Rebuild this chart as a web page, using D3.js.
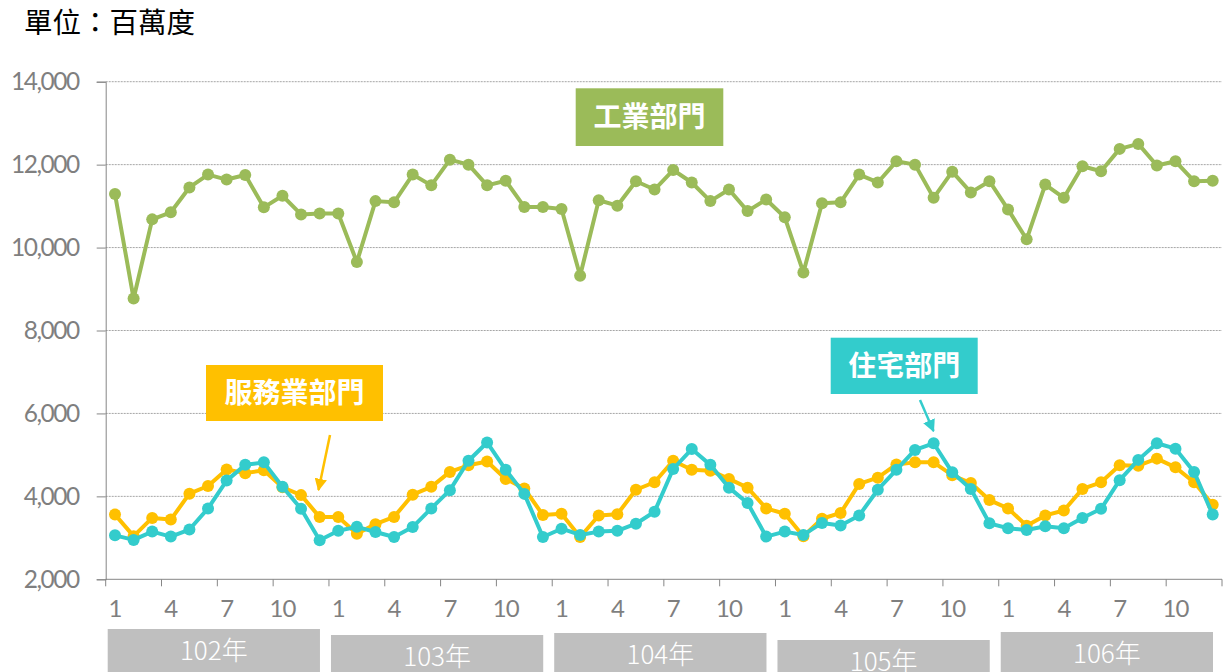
<!DOCTYPE html>
<html>
<head>
<meta charset="utf-8">
<script src="https://cdn.jsdelivr.net/npm/d3@7"></script>
<style>
  body { margin: 0; background: #fff; }
  svg { display: block; }
</style>
</head>
<body>
<div id="chart"></div>
<script>
// data (百萬度), 102年1月 - 106年12月
var years = ["102年", "103年", "104年", "105年", "106年"];
var monthLabels = ["1", "4", "7", "10"];
var yTicks = [2000, 4000, 6000, 8000, 10000, 12000, 14000];

var industry = [
  11290, 8770, 10680, 10850, 11450, 11760, 11640, 11750, 10970, 11250, 10800, 10820,
  10820, 9650, 11120, 11090, 11760, 11500, 12120, 12000, 11500, 11610, 10980, 10980,
  10930, 9320, 11140, 11010, 11600, 11400, 11870, 11570, 11120, 11400, 10880, 11160,
  10730, 9400, 11070, 11090, 11760, 11570, 12080, 12000, 11200, 11830, 11330, 11600,
  10920, 10200, 11520, 11200, 11960, 11840, 12380, 12500, 11980, 12080, 11600, 11610
];
var service = [
  3560, 3040, 3480, 3440, 4065, 4250, 4650, 4560, 4630, 4220, 4030, 3500,
  3500, 3100, 3330, 3505, 4040, 4230, 4590, 4750, 4840, 4420, 4190, 3550,
  3580, 3020, 3540, 3570, 4160, 4340, 4860, 4640, 4620, 4420, 4210, 3710,
  3580, 3040, 3460, 3600, 4300, 4450, 4770, 4820, 4820, 4510, 4320, 3910,
  3710, 3290, 3540, 3660, 4180, 4340, 4750, 4740, 4910, 4700, 4340, 3800
];
var residential = [
  3060, 2950, 3150, 3030, 3200, 3710, 4380, 4760, 4820, 4230, 3700, 2940,
  3170, 3265, 3140, 3020, 3260, 3710, 4150, 4860, 5300, 4640, 4060, 3020,
  3220, 3070, 3150, 3170, 3340, 3630, 4660, 5140, 4760, 4210, 3840, 3030,
  3150, 3070, 3360, 3300, 3540, 4160, 4640, 5120, 5280, 4580, 4180, 3350,
  3230, 3190, 3280, 3230, 3480, 3700, 4390, 4880, 5280, 5150, 4590, 3560
];

var seriesNames = ["工業部門", "服務業部門", "住宅部門"];
var colors = ["#9BBB59", "#FFC000", "#33CCCC"];

function drawChart() {
var width = 1224, height = 672;
var plotLeft = 105.7, plotRight = 1222, plotTop = 81.7, plotBottom = 579.3;

var svg = d3.select("#chart").append("svg")
  .attr("width", width)
  .attr("height", height);

var idx = d3.range(industry.length);
var x = d3.scaleBand().domain(idx).range([plotLeft, plotRight]);
var y = d3.scaleLinear().domain([2000, 14000]).range([plotBottom, plotTop]);
var cx = function(i) { return x(i) + x.bandwidth() / 2; };

// title
svg.append("text")
  .attr("x", 24).attr("y", 33)
  .attr("font-family", "Noto Sans CJK TC")
  .attr("font-size", 28.5)
  .attr("fill", "#000")
  .text("單位：百萬度");

// gridlines
svg.append("g").selectAll("line")
  .data(yTicks.slice(1))
  .enter().append("line")
  .attr("x1", plotLeft).attr("x2", plotRight)
  .attr("y1", d => y(d)).attr("y2", d => y(d))
  .attr("stroke", "#a6a6a6")
  .attr("stroke-width", 1)
  .attr("stroke-dasharray", "2,1");

// y axis
var yAxis = d3.axisLeft(y).tickValues(yTicks).tickSize(9).tickPadding(18)
  .tickFormat(d3.format(","));
var gy = svg.append("g").attr("transform", `translate(${plotLeft},0)`).call(yAxis);
gy.select(".domain").attr("stroke", "#868686");
gy.selectAll(".tick line").attr("stroke", "#868686");
gy.selectAll(".tick text")
  .attr("fill", "#7f7f7f")
  .attr("font-family", "Lato, sans-serif")
  .attr("font-size", 24.5)
  .attr("letter-spacing", -1.5);

// x axis
var gx = svg.append("g");
gx.append("line")
  .attr("x1", plotLeft).attr("x2", plotRight)
  .attr("y1", plotBottom).attr("y2", plotBottom)
  .attr("stroke", "#868686");
var tickIdx = idx.filter(i => i % 3 == 0);
gx.selectAll(".xt")
  .data(tickIdx.map(i => x(i)).concat([plotRight]))
  .enter().append("line")
  .attr("x1", d => d).attr("x2", d => d)
  .attr("y1", plotBottom).attr("y2", plotBottom + 7)
  .attr("stroke", "#868686");
gx.selectAll(".xl")
  .data(tickIdx)
  .enter().append("text")
  .attr("x", d => cx(d))
  .attr("y", 617)
  .attr("text-anchor", "middle")
  .attr("fill", "#7f7f7f")
  .attr("font-family", "Lato, sans-serif")
  .attr("font-size", 24)
  .attr("letter-spacing", -1)
  .text(d => monthLabels[(d % 12) / 3]);

// year boxes
var yearBoxTop = [629, 635, 633, 640, 632];
var yb = svg.append("g").selectAll("g")
  .data(years)
  .enter().append("g");
yb.append("rect")
  .attr("x", (d, i) => x(i * 12) + 2)
  .attr("y", (d, i) => yearBoxTop[i])
  .attr("width", x.bandwidth() * 12 - 11)
  .attr("height", 50)
  .attr("fill", "#bfbfbf");
yb.append("text")
  .attr("x", (d, i) => x(i * 12) + 2 + (x.bandwidth() * 12 - 11) / 2)
  .attr("y", (d, i) => yearBoxTop[i] + 31)
  .attr("text-anchor", "middle")
  .attr("fill", "#fff")
  .attr("font-family", "Noto Sans CJK TC")
  .attr("font-weight", 300)
  .attr("font-size", 26)
  .text(d => d);

// lines
var line = d3.line().x((d, i) => cx(i)).y(d => y(d));
[industry, service, residential].forEach(function(s, k) {
  var g = svg.append("g");
  g.append("path")
    .datum(s)
    .attr("d", line)
    .attr("fill", "none")
    .attr("stroke", colors[k])
    .attr("stroke-width", 4)
    .attr("stroke-linejoin", "round");
  g.selectAll("circle")
    .data(s)
    .enter().append("circle")
    .attr("cx", (d, i) => cx(i))
    .attr("cy", d => y(d))
    .attr("r", 6)
    .attr("fill", colors[k]);
});

// labels
var labelBoxes = [
  { x: 575.7, y: 88.3, w: 147.6, h: 57.7 },
  { x: 206, y: 365, w: 177, h: 56 },
  { x: 830.7, y: 337.7, w: 147, h: 56.3 }
];
labelBoxes.forEach(function(b, k) {
  svg.append("rect")
    .attr("x", b.x).attr("y", b.y)
    .attr("width", b.w).attr("height", b.h)
    .attr("fill", colors[k]);
  svg.append("text")
    .attr("x", b.x + b.w / 2)
    .attr("y", b.y + b.h / 2 + 10)
    .attr("text-anchor", "middle")
    .attr("fill", "#fff")
    .attr("font-family", "Noto Sans CJK TC")
    .attr("font-weight", "bold")
    .attr("font-size", 28)
    .text(seriesNames[k]);
});

// arrows
var defs = svg.append("defs");
[1, 2].forEach(function(k) {
  defs.append("marker")
    .attr("id", "arr" + k)
    .attr("viewBox", "0 0 10 10")
    .attr("refX", 9).attr("refY", 5)
    .attr("markerWidth", 5).attr("markerHeight", 5)
    .attr("orient", "auto")
    .append("path")
    .attr("d", "M0,0 L10,5 L0,10 Z")
    .attr("fill", colors[k]);
});
svg.append("line")
  .attr("x1", 330).attr("y1", 435).attr("x2", 318.5).attr("y2", 490)
  .attr("stroke", colors[1]).attr("stroke-width", 2.5)
  .attr("marker-end", "url(#arr1)");
svg.append("line")
  .attr("x1", 920).attr("y1", 400).attr("x2", 933.5).attr("y2", 431)
  .attr("stroke", colors[2]).attr("stroke-width", 2.5)
  .attr("marker-end", "url(#arr2)");
}
drawChart();
</script>
</body>
</html>
